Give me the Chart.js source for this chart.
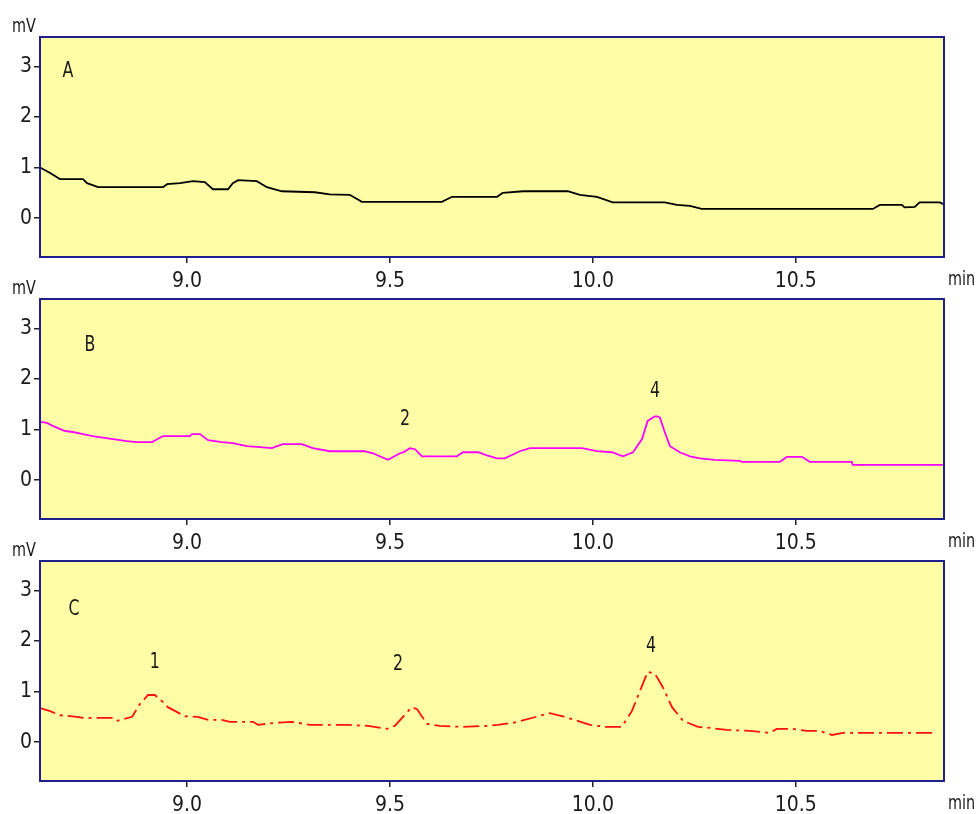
<!DOCTYPE html>
<html>
<head>
<meta charset="utf-8">
<script src="https://cdn.jsdelivr.net/npm/chart.js@4.4.1/dist/chart.umd.min.js"></script>
<style>
  html, body { margin: 0; padding: 0; background: #fff; }
  #wrap { position: relative; width: 977px; height: 814px; overflow: hidden; }
  canvas { position: absolute; left: 0; }
</style>
</head>
<body>
<div id="wrap">
  <canvas id="chartA" width="977" height="300" style="top:0px;width:977px;height:300px"></canvas>
  <canvas id="chartB" width="977" height="300" style="top:262px;width:977px;height:300px"></canvas>
  <canvas id="chartC" width="977" height="290" style="top:524px;width:977px;height:290px"></canvas>
</div>
<script>
// axis ticks
const xTicks = [9.0, 9.5, 10.0, 10.5];
const yTicks = [0, 1, 2, 3];
const X_MIN = 8.638, X_MAX = 10.865;
const Y_MIN = -0.77, Y_MAX = 3.58;

// trace A (black)
const timeA = [8.638, 8.663, 8.687, 8.744, 8.754, 8.781, 8.941, 8.951, 8.983, 9.015, 9.044, 9.064, 9.101, 9.113, 9.126,
  9.172, 9.197, 9.234, 9.315, 9.352, 9.401, 9.431, 9.628, 9.653, 9.764, 9.778, 9.828, 9.938, 9.968, 10.010, 10.049,
  10.177, 10.207, 10.239, 10.268, 10.690, 10.707, 10.761, 10.768, 10.793, 10.805, 10.855, 10.867];
const valuesA = [1.00, 0.89, 0.77, 0.77, 0.69, 0.61, 0.61, 0.67, 0.69, 0.73, 0.71, 0.57, 0.57, 0.69, 0.75,
  0.73, 0.61, 0.53, 0.51, 0.47, 0.46, 0.32, 0.32, 0.42, 0.42, 0.50, 0.53, 0.53, 0.46, 0.42, 0.31,
  0.31, 0.26, 0.24, 0.18, 0.18, 0.26, 0.26, 0.21, 0.22, 0.31, 0.31, 0.26];

// trace B (magenta)
const timeB = [8.638, 8.655, 8.675, 8.700, 8.719, 8.744, 8.768, 8.818, 8.852, 8.877, 8.914, 8.941, 9.007, 9.012, 9.032,
  9.052, 9.086, 9.113, 9.148, 9.180, 9.209, 9.236, 9.283, 9.310, 9.352, 9.438, 9.458, 9.495, 9.525, 9.534, 9.549,
  9.562, 9.579, 9.665, 9.680, 9.717, 9.739, 9.764, 9.783, 9.820, 9.845, 9.973, 10.010, 10.047, 10.074, 10.099,
  10.121, 10.135, 10.153, 10.158, 10.165, 10.177, 10.190, 10.214, 10.239, 10.264, 10.300, 10.362, 10.367, 10.461,
  10.478, 10.515, 10.534, 10.638, 10.640, 10.862];
const valuesB = [1.15, 1.13, 1.05, 0.97, 0.95, 0.91, 0.87, 0.81, 0.77, 0.75, 0.75, 0.87, 0.87, 0.91, 0.91,
  0.79, 0.75, 0.73, 0.67, 0.65, 0.63, 0.71, 0.71, 0.63, 0.57, 0.57, 0.53, 0.40, 0.53, 0.55, 0.63,
  0.61, 0.47, 0.47, 0.55, 0.55, 0.49, 0.43, 0.43, 0.57, 0.63, 0.63, 0.57, 0.55, 0.47, 0.55,
  0.81, 1.17, 1.26, 1.26, 1.24, 0.95, 0.67, 0.55, 0.47, 0.43, 0.40, 0.38, 0.36, 0.36,
  0.46, 0.46, 0.36, 0.36, 0.30, 0.30];

// trace C (red, broken)
const timeC = [8.638, 8.663, 8.687, 8.729, 8.744, 8.818, 8.828, 8.865, 8.884, 8.904, 8.921, 8.941, 8.953, 8.995, 9.027,
  9.052, 9.086, 9.106, 9.163, 9.175, 9.217, 9.259, 9.303, 9.352, 9.394, 9.446, 9.493, 9.512, 9.554, 9.567, 9.591,
  9.623, 9.680, 9.739, 9.766, 9.803, 9.894, 9.926, 9.993, 10.030, 10.071, 10.096, 10.121, 10.135, 10.153, 10.172,
  10.195, 10.222, 10.259, 10.288, 10.330, 10.387, 10.436, 10.453, 10.493, 10.527, 10.559, 10.589, 10.616, 10.847];
const valuesC = [0.67, 0.61, 0.53, 0.50, 0.48, 0.48, 0.42, 0.50, 0.75, 0.93, 0.93, 0.79, 0.69, 0.51, 0.50,
  0.44, 0.44, 0.40, 0.40, 0.34, 0.38, 0.40, 0.34, 0.34, 0.34, 0.32, 0.26, 0.32, 0.69, 0.65, 0.36,
  0.32, 0.30, 0.32, 0.34, 0.38, 0.57, 0.51, 0.34, 0.30, 0.30, 0.61, 1.11, 1.39, 1.35, 1.09,
  0.69, 0.42, 0.30, 0.28, 0.24, 0.22, 0.18, 0.26, 0.26, 0.22, 0.22, 0.14, 0.18, 0.18];

// panel letters and peak numbers: [text, time, mV]
const notesA = [['A', 8.707, 2.91]];
const notesB = [['B', 8.761, 2.67], ['2', 9.537, 1.21], ['4', 10.153, 1.76]];
const notesC = [['C', 8.722, 2.63], ['1', 8.921, 1.58], ['2', 9.520, 1.54], ['4', 10.143, 1.90]];

const FONT = '"Liberation Sans Narrow", "DejaVu Sans Condensed", "Liberation Sans", sans-serif';

// narrow text: squeeze horizontally like the instrument font
function narrowText(ctx, txt, x, y, sx) {
  ctx.save();
  ctx.translate(x, y);
  ctx.scale(sx, 1);
  ctx.fillText(txt, 0, 0);
  ctx.restore();
}

const panelDeco = {
  id: 'panelDeco',
  beforeDraw(chart) {
    const a = chart.chartArea, ctx = chart.ctx;
    ctx.save();
    ctx.fillStyle = '#fffea6';
    ctx.fillRect(a.left, a.top, a.right - a.left, a.bottom - a.top);
    ctx.restore();
  },
  afterDraw(chart, args, opts) {
    const a = chart.chartArea, ctx = chart.ctx;
    const xs = chart.scales.x, ys = chart.scales.y;
    ctx.save();
    ctx.strokeStyle = '#1f1f8f';
    ctx.lineWidth = 2;
    ctx.strokeRect(a.left, a.top, a.right - a.left, a.bottom - a.top);
    ctx.fillStyle = '#1a1a1a';
    ctx.font = '20px ' + FONT;
    ctx.textAlign = 'left';
    ctx.textBaseline = 'alphabetic';
    narrowText(ctx, 'mV', a.left - 28, a.top - 5, 0.8);
    narrowText(ctx, 'min', a.right + 4, a.bottom + 28, 0.8);
    ctx.font = '22px ' + FONT;
    ctx.textAlign = 'center';
    ctx.textBaseline = 'middle';
    for (const [txt, t, v] of opts.notes) {
      narrowText(ctx, txt, xs.getPixelForValue(t), ys.getPixelForValue(v), 0.8);
    }
    ctx.restore();
  }
};

function makePanel(id, times, values, color, dash, notes) {
  const canvas = document.getElementById(id);
  const h = canvas.height;
  return new Chart(canvas, {
    type: 'line',
    data: {
      datasets: [{
        data: times.map((t, i) => ({ x: t, y: values[i] })),
        borderColor: color,
        borderWidth: 1.8,
        borderDash: dash,
        pointRadius: 0,
        tension: 0,
        fill: false
      }]
    },
    options: {
      responsive: false,
      animation: false,
      events: [],
      layout: { padding: { top: 37, right: 33, left: 0, bottom: 0 } },
      plugins: {
        legend: { display: false },
        tooltip: { enabled: false },
        panelDeco: { notes: notes }
      },
      scales: {
        x: {
          type: 'linear',
          min: X_MIN,
          max: X_MAX,
          afterBuildTicks: s => { s.ticks = xTicks.map(v => ({ value: v })); },
          afterFit: s => { s.height = h - 257; },
          grid: { drawOnChartArea: false, drawTicks: true, tickLength: 6, color: '#222', lineWidth: 1.5 },
          border: { display: false },
          ticks: {
            color: '#1a1a1a',
            font: { family: FONT, size: 21 },
            padding: 6,
            maxRotation: 0,
            callback: v => Number(v).toFixed(1)
          }
        },
        y: {
          type: 'linear',
          min: Y_MIN,
          max: Y_MAX,
          afterBuildTicks: s => { s.ticks = yTicks.map(v => ({ value: v })); },
          afterFit: s => { s.width = 40; },
          grid: { drawOnChartArea: false, drawTicks: true, tickLength: 6, color: '#222', lineWidth: 1.5 },
          border: { display: false },
          ticks: {
            color: '#1a1a1a',
            font: { family: FONT, size: 21 },
            padding: 2,
            callback: v => String(v)
          }
        }
      }
    },
    plugins: [panelDeco]
  });
}

makePanel('chartA', timeA, valuesA, '#000000', [], notesA);
makePanel('chartB', timeB, valuesB, '#ff00ff', [], notesB);
makePanel('chartC', timeC, valuesC, '#ff1010', [16, 5, 3, 5], notesC);
</script>
</body>
</html>
